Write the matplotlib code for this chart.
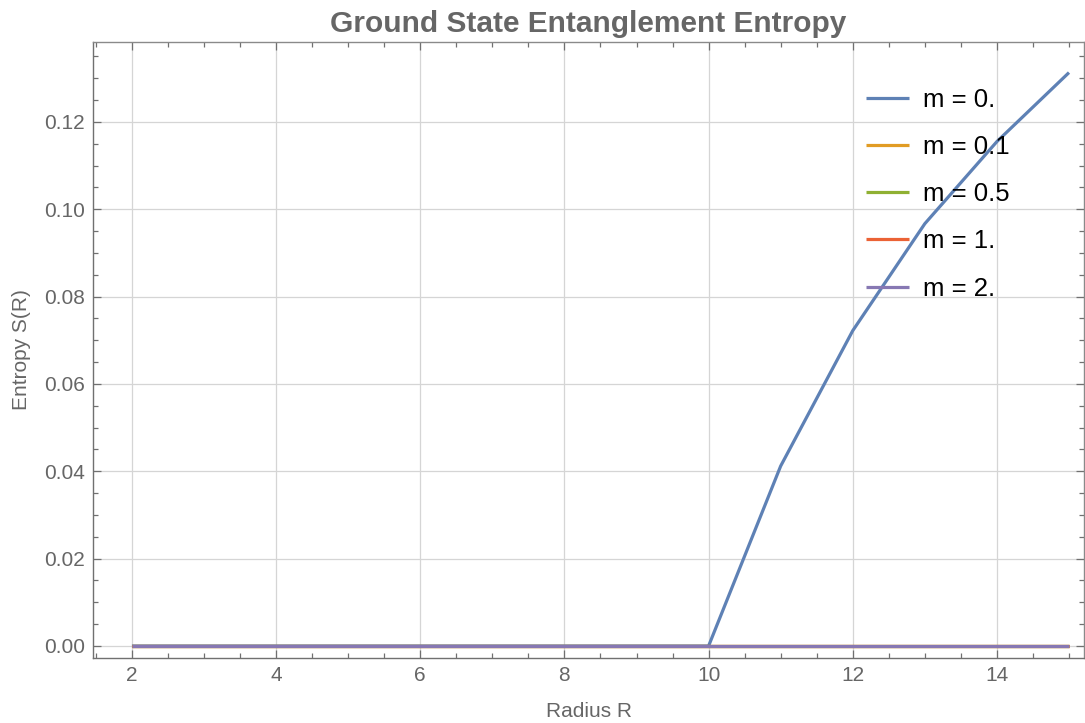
import matplotlib
matplotlib.use('Agg')
from matplotlib import pyplot as plt
from matplotlib.ticker import MultipleLocator

radius = [2, 3, 4, 5, 6, 7, 8, 9, 10, 11, 12, 13, 14, 15]
labels = ['m = 0.', 'm = 0.1', 'm = 0.5', 'm = 1.', 'm = 2.']
entropy_m0 = [0, 0, 0, 0, 0, 0, 0, 0, 0, 0.0412, 0.0722, 0.0967, 0.1155, 0.1313]
entropy_m01 = [0] * 14
entropy_m05 = [0] * 14
entropy_m1 = [0] * 14
entropy_m2 = [0] * 14
colors = ['#5E81B5', '#E19C24', '#8FB032', '#EB6235', '#8778B3']

plt.rcParams['font.family'] = ['Liberation Sans', 'DejaVu Sans']
gray = '#666666'

fig = plt.figure(figsize=(10.85, 7.23), dpi=100)
ax = fig.add_axes([93 / 1085, 1 - 658 / 723, 1 - 93 / 1085 - 0.0008, (658 - 42) / 723])

series = [entropy_m0, entropy_m01, entropy_m05, entropy_m1, entropy_m2]
for vals, lab, c in zip(series, labels, colors):
    ax.plot(radius, vals, color=c, lw=2.3, label=lab, solid_capstyle='butt')

ax.set_xlim(1.46, 15.21)
ax.set_ylim(-0.00275, 0.1383)
ax.xaxis.set_major_locator(MultipleLocator(2))
ax.xaxis.set_minor_locator(MultipleLocator(0.5))
ax.yaxis.set_major_locator(MultipleLocator(0.02))
ax.yaxis.set_minor_locator(MultipleLocator(0.005))
ax.yaxis.set_major_formatter(matplotlib.ticker.FormatStrFormatter('%.2f'))

ax.grid(which='major', color='#d5d5d5', lw=0.9)
ax.set_axisbelow(True)
for s in ax.spines.values():
    s.set_color('#8a8a8a')
    s.set_linewidth(1.0)
ax.spines['left'].set_color('#707070')
ax.spines['bottom'].set_color('#707070')

ax.tick_params(which='both', direction='in', top=True, right=True, colors='#707070',
               labelcolor=gray, labelsize=15, width=0.9)
ax.tick_params(which='major', length=6, pad=6)
ax.tick_params(which='minor', length=3.8)

ax.set_title('Ground State Entanglement Entropy', fontsize=21.5, fontweight='bold',
             color=gray, pad=7)
ax.set_xlabel('Radius R', fontsize=15, color=gray, labelpad=12)
ax.set_ylabel('Entropy S(R)', fontsize=15, color=gray, labelpad=9)

ax.legend(loc='upper left', bbox_to_anchor=(866 / 1085, 1 - 88 / 723),
          bbox_transform=fig.transFigure, frameon=False, fontsize=18.5,
          handlelength=1.68, handletextpad=0.55, labelspacing=0.9, borderpad=0,
          borderaxespad=0)

fig.savefig('out.png', dpi=100)
